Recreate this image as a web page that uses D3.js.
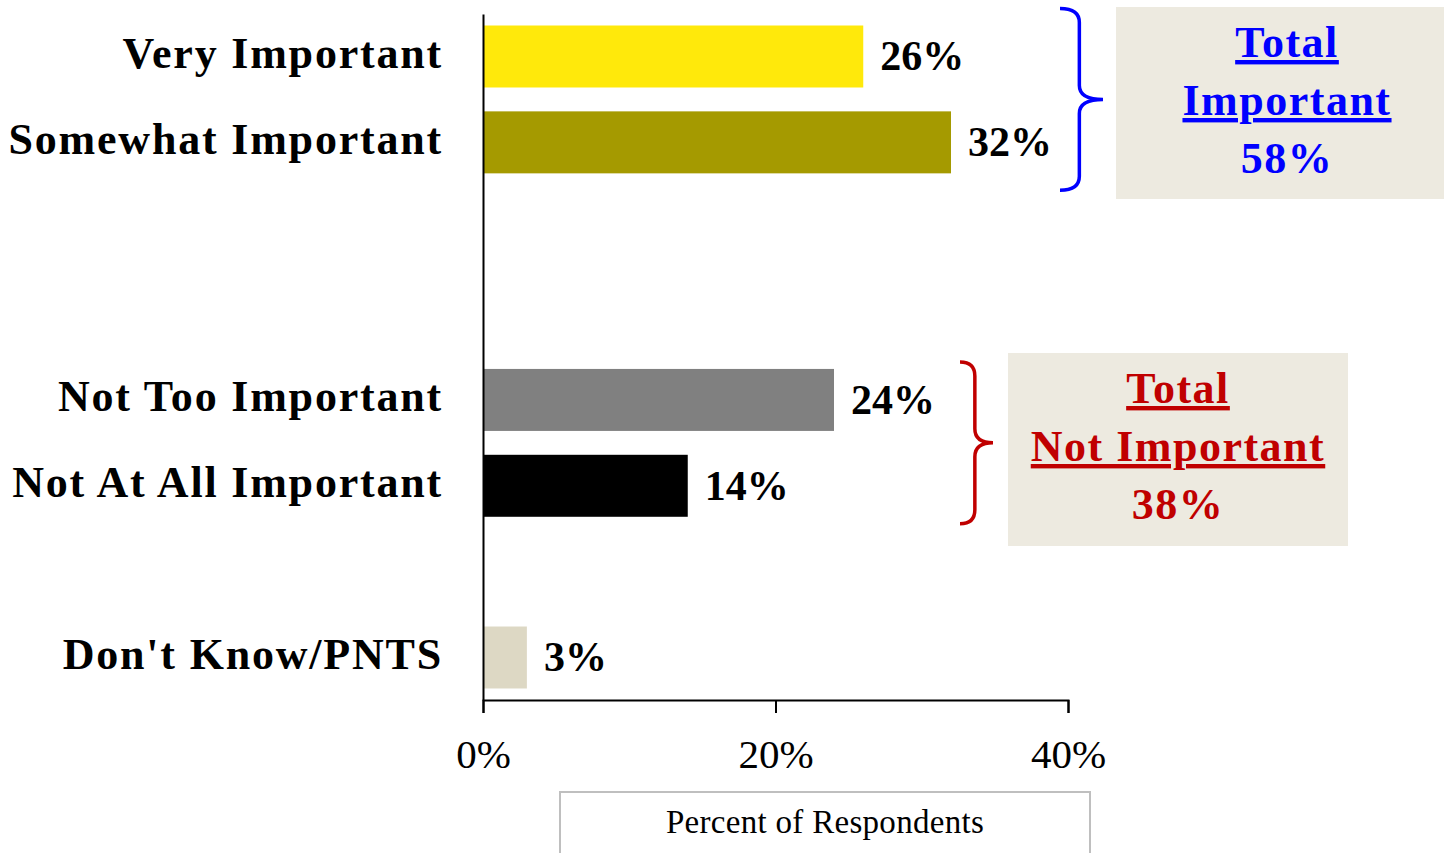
<!DOCTYPE html>
<html><head><meta charset="utf-8">
<script src="https://cdn.jsdelivr.net/npm/d3@7"></script>
<style>
body{margin:0;background:#fff;overflow:hidden;}
text{font-family:"Liberation Serif","DejaVu Serif",serif;}
</style></head>
<body><svg id="chart" width="1444" height="853"></svg>
<script>
// ---- data ----
const slots = ["Very Important","Somewhat Important","gap1","gap2","Not Too Important","Not At All Important","gap3","Don't Know/PNTS"];
const categories = ["Very Important","Somewhat Important","Not Too Important","Not At All Important","Don't Know/PNTS"];
const values = [0.26,0.32,0.24,0.14,0.03];
const barColors = ["#FFE90B","#A59A00","#808080","#000000","#DDD8C4"];
const tickValues = [0,0.2,0.4];
const axisTitle = "Percent of Respondents";
const groupImportant = {members:["Very Important","Somewhat Important"], lines:["Total","Important","58%"], color:"#0000FF"};
const groupNot = {members:["Not Too Important","Not At All Important"], lines:["Total","Not Important","38%"], color:"#C00000"};

const svg = d3.select("#chart");
const x = d3.scaleLinear().domain([0,0.4]).range([483,1068]);
const y = d3.scaleBand().domain(slots).range([14,700]).paddingInner(0.278).paddingOuter(0.134);

// bars
svg.selectAll("rect.bar").data(categories).join("rect")
  .attr("class","bar")
  .attr("x",x(0)).attr("y",d=>y(d))
  .attr("width",(d,i)=>x(values[i])-x(0))
  .attr("height",y.bandwidth())
  .attr("fill",(d,i)=>barColors[i]);

// value labels
svg.selectAll("text.val").data(categories).join("text")
  .attr("class","val")
  .attr("x",(d,i)=>x(values[i])+17)
  .attr("y",d=>y(d)+y.bandwidth()/2)
  .attr("dy","0.33em")
  .attr("font-size",42).attr("font-weight","bold").attr("fill","#000")
  .text((d,i)=>d3.format(".0%")(values[i]));

// y axis
const yAxis = svg.append("g").attr("transform",`translate(${x(0)},0)`)
  .call(d3.axisLeft(y).tickSize(0).tickSizeOuter(0).tickPadding(40)
    .tickFormat(d=>categories.includes(d)?d:""));
yAxis.select(".domain").attr("stroke","#000").attr("stroke-width",2);
yAxis.selectAll("text").attr("font-size",44).attr("font-weight","bold").attr("fill","#000")
  .attr("letter-spacing","1.8px").attr("dy","0.26em")
  .attr("font-family","'Liberation Serif',serif");

// x axis
const xAxis = svg.append("g").attr("transform",`translate(0,${y.range()[1]})`)
  .call(d3.axisBottom(x).tickValues(tickValues).tickSize(13).tickSizeOuter(13).tickPadding(26)
    .tickFormat(d3.format(".0%")));
xAxis.select(".domain").attr("stroke","#000").attr("stroke-width",2);
xAxis.selectAll(".tick line").attr("stroke","#000").attr("stroke-width",2);
xAxis.selectAll("text").attr("font-size",41).attr("fill","#000")
  .attr("font-family","'Liberation Serif',serif");

// axis title box
svg.append("rect").attr("x",560).attr("y",792).attr("width",530).attr("height",80)
  .attr("fill","#fff").attr("stroke","#BFBFBF").attr("stroke-width",2);
svg.append("text").attr("x",825).attr("y",833).attr("text-anchor","middle")
  .attr("font-size",33).attr("letter-spacing","0.3px").attr("fill","#000").text(axisTitle);

// braces
function bracePath(x0, y0, y1, w){
  const mid=(y0+y1)/2, xs=x0+w*0.45, r=14;
  return `M${x0},${y0} Q${xs},${y0} ${xs},${y0+r} L${xs},${mid-r} Q${xs},${mid} ${x0+w},${mid} Q${xs},${mid} ${xs},${mid+r} L${xs},${y1-r} Q${xs},${y1} ${x0},${y1}`;
}
function group(g, braceX, braceW, ext, box){
  const y0 = y(g.members[0]) - ext, y1 = y(g.members[g.members.length-1]) + y.bandwidth() + ext;
  svg.append("path").attr("d",bracePath(braceX,y0,y1,braceW))
    .attr("fill","none").attr("stroke",g.color).attr("stroke-width",3.5);
  svg.append("rect").attr("x",box.x).attr("y",box.y).attr("width",box.w).attr("height",box.h).attr("fill","#EDEAE0");
  const cx = box.x+box.w/2;
  g.lines.forEach((t,i)=>{
    svg.append("text").attr("x",cx).attr("y",box.y+box.baseline+i*58)
      .attr("text-anchor","middle").attr("font-size",44).attr("font-weight","bold")
      .attr("letter-spacing","1.5px")
      .attr("fill",g.color).attr("text-decoration",i<2?"underline":null).text(t);
  });
}
group(groupImportant, 1060, 43, 17, {x:1116,y:7,w:342,h:192,baseline:50});
group(groupNot, 960, 33, 7, {x:1008,y:353,w:340,h:193,baseline:50});
</script></body></html>
